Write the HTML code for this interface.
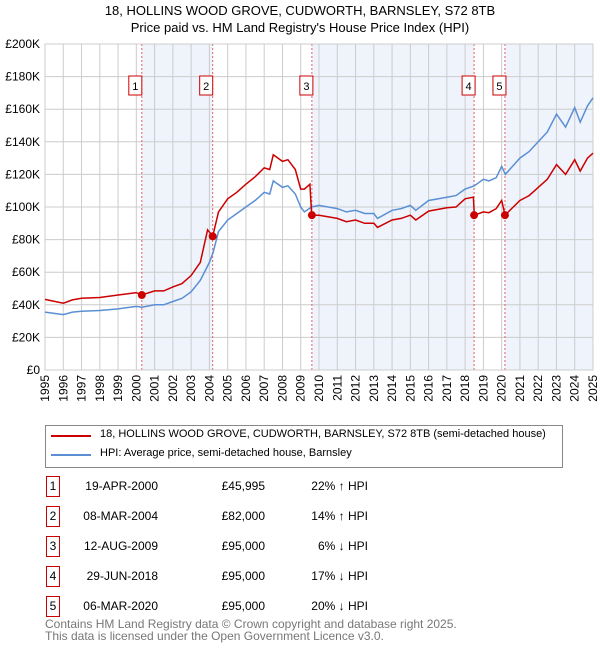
<!DOCTYPE html>
<html><head><meta charset="utf-8"><style>
body{margin:0;width:600px;height:650px;background:#fff;font-family:"Liberation Sans","DejaVu Sans",sans-serif;overflow:hidden;position:relative}
.t{position:absolute;font-size:12px;color:#000}
.box{position:absolute;border:1px solid #c00;width:12px;height:19px;font-size:12px;text-align:center;line-height:19px;left:46px}
</style></head><body>
<div class="t" style="left:0;width:600px;top:3px;text-align:center;font-size:13px">18, HOLLINS WOOD GROVE, CUDWORTH, BARNSLEY, S72 8TB</div>
<div class="t" style="left:0;width:600px;top:20px;text-align:center;font-size:13px">Price paid vs. HM Land Registry's House Price Index (HPI)</div>
<svg id="chart" width="600" height="420" style="position:absolute;left:0;top:0"></svg>
<div style="position:absolute;left:45px;top:425px;width:516px;height:41px;border:1px solid #888"></div>
<div style="position:absolute;left:51px;top:435px;width:40px;height:2px;background:#c00"></div>
<div class="t" style="left:100px;top:428px;font-size:11px">18, HOLLINS WOOD GROVE, CUDWORTH, BARNSLEY, S72 8TB (semi-detached house)</div>
<div style="position:absolute;left:51px;top:454px;width:40px;height:2px;background:#5b8fd4"></div>
<div class="t" style="left:100px;top:447px;font-size:11px">HPI: Average price, semi-detached house, Barnsley</div>
<div id="tbl"></div>
<div class="t" style="left:45px;top:618px;color:#777;line-height:12px">Contains HM Land Registry data © Crown copyright and database right 2025.<br>This data is licensed under the Open Government Licence v3.0.</div>
<script>
const hpiX=[1995,1996,1996.5,1997,1998,1999,2000,2000.3,2001,2001.5,2002,2002.5,2003,2003.5,2004,2004.2,2004.5,2005,2005.5,2006,2006.5,2007,2007.3,2007.5,2008,2008.3,2008.7,2009,2009.2,2009.6,2010,2011,2011.5,2012,2012.5,2013,2013.2,2014,2014.5,2015,2015.3,2016,2017,2017.5,2018,2018.5,2019,2019.3,2019.7,2020,2020.2,2021,2021.5,2022,2022.5,2023,2023.5,2024,2024.3,2024.7,2025];
const hpiY=[35.5,34,35.5,36,36.5,37.5,39,38.5,40,40,42,44,48,55,66,72,85,92,96,100,104,109,108,116,112,113,108,100,97,100,101,99,97,98,96,96,93,98,99,101,98,104,106,107,111,113,117,116,118,125,120,130,134,140,146,157,149,161,152,162,167];
const redX=[1995,1996,1996.5,1997,1998,1999,2000,2000.3,2001,2001.5,2002,2002.5,2003,2003.5,2003.9,2004.18,2004.5,2005,2005.5,2006,2006.5,2007,2007.3,2007.5,2008,2008.3,2008.7,2009,2009.2,2009.5,2009.6,2010,2011,2011.5,2012,2012.5,2013,2013.2,2014,2014.5,2015,2015.3,2016,2017,2017.5,2018,2018.45,2018.5,2019,2019.3,2019.7,2020,2020.18,2021,2021.5,2022,2022.5,2023,2023.5,2024,2024.3,2024.7,2025];
const redY=[43.3,41,43,44,44.5,46,47.5,46,48.5,48.5,51,53,58,66,86,82,97,105,109,114,118.5,124,123,132,128,129,123,111,111,114,95,95,93,91,92,90,90,87.5,92,93,95,92,97.5,99.5,100,105,106,95,97,96.5,99,104,95,104,107,112,117,126,120,129,122,130,133];
const saleX=[2000.3,2004.18,2009.61,2018.49,2020.18];
const saleY=[46,82,95,95,95];
const saleLabels=["1","2","3","4","5"];
const saleDates=["19-APR-2000","08-MAR-2004","12-AUG-2009","29-JUN-2018","06-MAR-2020"];
const salePrices=["£45,995","£82,000","£95,000","£95,000","£95,000"];
const saleHpi=["22% ↑ HPI","14% ↑ HPI","6% ↓ HPI","17% ↓ HPI","20% ↓ HPI"];
const yTicks=[0,20,40,60,80,100,120,140,160,180,200];
const years=[];for(let y=1995;y<=2025;y++)years.push(y);
const L=45,R=593,T=44,B=370;
const sx=v=>L+(v-1995)/30*(R-L), sy=v=>B-v/200*(B-T);
const svg=document.getElementById('chart');const NS='http://www.w3.org/2000/svg';
function mk(tag,at,name){const e=document.createElementNS(NS,tag);for(const k in at)e.setAttribute(k,at[k]);


svg.appendChild(e);return e;}
const shadeStart=[saleX[0],saleX[2],saleX[4]],shadeEnd=[saleX[1],saleX[3],2025];
shadeStart.forEach((s,i)=>mk('rect',{x:sx(s),y:T,width:sx(shadeEnd[i])-sx(s),height:B-T,fill:'#eef3fc'},'shaded-period'));
years.forEach(y=>mk('line',{x1:sx(y),x2:sx(y),y1:T,y2:B,stroke:'#ccc','stroke-width':1},'x-gridline'));
yTicks.forEach(v=>{mk('line',{x1:L,x2:R,y1:sy(v),y2:sy(v),stroke:'#ccc','stroke-width':1},'y-gridline');
const t=mk('text',{x:L-5,y:sy(v)+4,'text-anchor':'end','font-size':12,fill:'#000'},'y-tick-label');t.textContent=v==0?'£0':'£'+v+'K';});
years.forEach(y=>{const t=mk('text',{transform:`translate(${sx(y)+4},${B+5}) rotate(-90)`,'text-anchor':'end','font-size':12},'x-tick-label');t.textContent=y;});
saleX.forEach((s,i)=>{mk('line',{x1:sx(s),x2:sx(s),y1:T,y2:B,stroke:'#e06060','stroke-dasharray':'2,2','stroke-width':1},'sale-marker-line');
const bx=sx(s)-(i==3||i==2||i==4?8:9);mk('rect',{x:bx-4,y:76,width:13,height:19,fill:'#fff',stroke:'#c00'},'sale-label-box');
const t=mk('text',{x:bx+2.5,y:90,'text-anchor':'middle','font-size':11},'sale-label');t.textContent=saleLabels[i];});
mk('rect',{x:L,y:T,width:R-L,height:B-T,fill:'none',stroke:'#ccc'},'plot-border');
const pts=(X,Y)=>X.map((x,i)=>sx(x).toFixed(1)+','+sy(Y[i]).toFixed(1)).join(' ');
mk('polyline',{points:pts(hpiX,hpiY),fill:'none',stroke:'#5b8fd4','stroke-width':1.5},'hpi-line');
mk('polyline',{points:pts(redX,redY),fill:'none',stroke:'#c00','stroke-width':1.5},'property-price-line');
saleX.forEach((s,i)=>mk('circle',{cx:sx(s),cy:sy(saleY[i]),r:4,fill:'#c00'},'sale-point'));
const tbl=document.getElementById('tbl');
saleLabels.forEach((l,i)=>{const top=476+i*30;
tbl.insertAdjacentHTML('beforeend',`<div class="box" style="top:${top}px">${l}</div>
<div class="t" style="left:60px;width:98px;text-align:right;top:${top+3}px">${saleDates[i]}</div>
<div class="t" style="left:180px;width:85px;text-align:right;top:${top+3}px">${salePrices[i]}</div>
<div class="t" style="left:280px;width:88px;text-align:right;top:${top+3}px">${saleHpi[i]}</div>`);});
</script>
</body></html>
